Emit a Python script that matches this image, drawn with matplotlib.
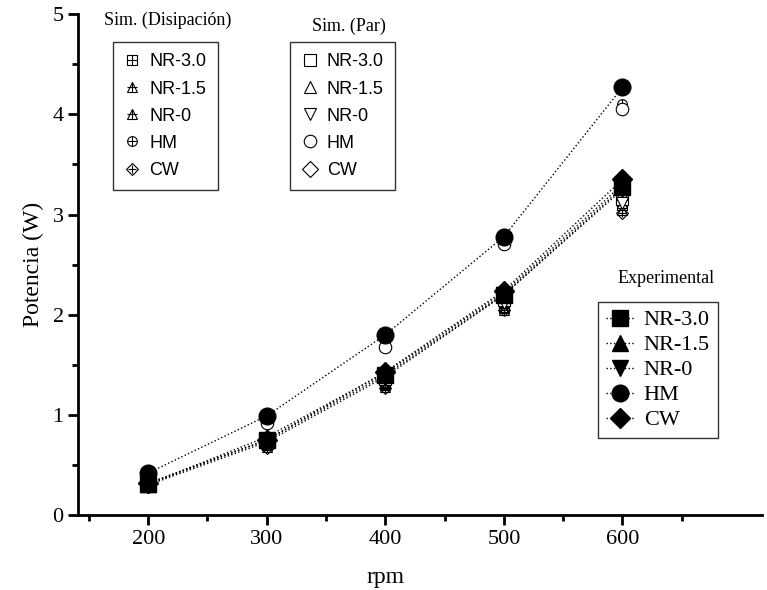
import numpy as np
import matplotlib
matplotlib.use('Agg')
import matplotlib.pyplot as plt
from matplotlib.lines import Line2D
from matplotlib.ticker import FixedLocator

plt.rcParams['font.family'] = ['Liberation Serif', 'DejaVu Serif']

rpm = [200, 300, 400, 500, 600]
series = ['NR-3.0', 'NR-1.5', 'NR-0', 'HM', 'CW']

# experimental power (W)
exp_vals = {
    'NR-3.0': [0.31, 0.75, 1.40, 2.20, 3.27],
    'NR-1.5': [0.31, 0.78, 1.42, 2.22, 3.30],
    'NR-0':   [0.30, 0.73, 1.38, 2.20, 3.25],
    'HM':     [0.42, 0.99, 1.80, 2.78, 4.27],
    'CW':     [0.32, 0.75, 1.43, 2.24, 3.35],
}
# simulation from torque
sim_par = {
    'NR-3.0': [0.30, 0.72, 1.36, 2.15, 3.15],
    'NR-1.5': [0.31, 0.74, 1.38, 2.18, 3.20],
    'NR-0':   [0.30, 0.72, 1.35, 2.12, 3.12],
    'HM':     [0.40, 0.92, 1.68, 2.71, 4.05],
    'CW':     [0.31, 0.73, 1.40, 2.20, 3.28],
}
# simulation from dissipation
sim_dis = {
    'NR-3.0': [0.29, 0.70, 1.31, 2.08, 3.10],
    'NR-1.5': [0.29, 0.70, 1.30, 2.07, 3.12],
    'NR-0':   [0.28, 0.68, 1.28, 2.05, 3.05],
    'HM':     [0.38, 0.92, 1.70, 2.73, 4.10],
    'CW':     [0.28, 0.67, 1.27, 2.05, 3.02],
}

x_major = [200, 300, 400, 500, 600]
x_minor = [150, 250, 350, 450, 550, 650]

markers = {'NR-3.0': 's', 'NR-1.5': '^', 'NR-0': 'v', 'HM': 'o', 'CW': 'D'}
dis_markers = {'NR-3.0': 's', 'NR-1.5': '^', 'NR-0': '^', 'HM': 'o', 'CW': 'D'}

fig = plt.figure(figsize=(7.67, 5.90), dpi=100)
ax = fig.add_axes([0.102, 0.127, 0.892, 0.849])

dis_handles = []
par_handles = []
exp_handles = []
for s in series:
    m = dis_markers[s]
    ms = 7 if m != 'D' else 6
    ax.plot(rpm, sim_dis[s], linestyle='none', marker=m, ms=ms, mfc='none', mec='black', mew=0.8, zorder=3)
    ax.plot(rpm, sim_dis[s], linestyle='none', marker='+', ms=ms, mec='black', mew=0.8, zorder=3)
    dis_handles.append((Line2D([], [], ls='none', marker=m, ms=ms, mfc='none', mec='black', mew=0.8),
                        Line2D([], [], ls='none', marker='+', ms=ms, mec='black', mew=0.8)))

for s in series:
    m = markers[s]
    ms = 9 if m != 'D' else 8
    ax.plot(rpm, sim_par[s], linestyle='none', marker=m, ms=ms, mfc='white', mec='black', mew=0.8, zorder=4)
    par_handles.append(Line2D([], [], ls='none', marker=m, ms=ms, mfc='white', mec='black', mew=0.8))

for s in series:
    m = markers[s]
    ms = 12 if m != 'D' else 10
    h, = ax.plot(rpm, exp_vals[s], linestyle=':', color='black', lw=1.0, marker=m, ms=ms,
                 mfc='black', mec='black', zorder=5)
    exp_handles.append(h)

ax.set_xlim(141, 718)
ax.set_ylim(0, 5)
ax.xaxis.set_major_locator(FixedLocator(x_major))
ax.xaxis.set_minor_locator(FixedLocator(x_minor))
ax.yaxis.set_major_locator(FixedLocator([0, 1, 2, 3, 4, 5]))
ax.yaxis.set_minor_locator(FixedLocator([0.5, 1.5, 2.5, 3.5, 4.5]))
for side in ['top', 'right']:
    ax.spines[side].set_visible(False)
for side in ['left', 'bottom']:
    ax.spines[side].set_linewidth(2)
ax.tick_params(which='major', direction='out', length=7, width=2, labelsize=16)
ax.tick_params(which='minor', direction='out', length=4, width=2)
ax.set_xlabel('rpm', fontsize=17)
ax.xaxis.set_label_coords(0.449, -0.104)
ax.set_ylabel('Potencia (W)', fontsize=17, labelpad=6)

leg_kw = dict(frameon=True, fancybox=False, edgecolor='black', borderaxespad=0)

leg1 = fig.legend(dis_handles, series, loc='upper left', bbox_to_anchor=(0.147, 0.929),
                  prop={'family': 'Liberation Sans', 'size': 13}, handlelength=0.9,
                  handletextpad=0.5, labelspacing=0.56, borderpad=0.64, **leg_kw)
leg1.get_frame().set_linewidth(1.0)
leg2 = fig.legend(par_handles, series, loc='upper left', bbox_to_anchor=(0.378, 0.929),
                  prop={'family': 'Liberation Sans', 'size': 13}, handlelength=0.9,
                  handletextpad=0.5, labelspacing=0.56, borderpad=0.64, **leg_kw)
leg2.get_frame().set_linewidth(1.0)
leg3 = fig.legend(exp_handles, series, loc='upper left', bbox_to_anchor=(0.780, 0.488),
                  prop={'family': 'Liberation Serif', 'size': 16}, handlelength=1.3,
                  handletextpad=0.4, labelspacing=0.2, borderpad=0.35, **leg_kw)
leg3.get_frame().set_linewidth(1.0)

fig.text(0.218, 0.965, 'Sim. (Disipación)', fontsize=13, ha='center', va='center')
fig.text(0.455, 0.955, 'Sim. (Par)', fontsize=13, ha='center', va='center')
fig.text(0.868, 0.528, 'Experimental', fontsize=13, ha='center', va='center')

fig.savefig('out.png', dpi=100)
